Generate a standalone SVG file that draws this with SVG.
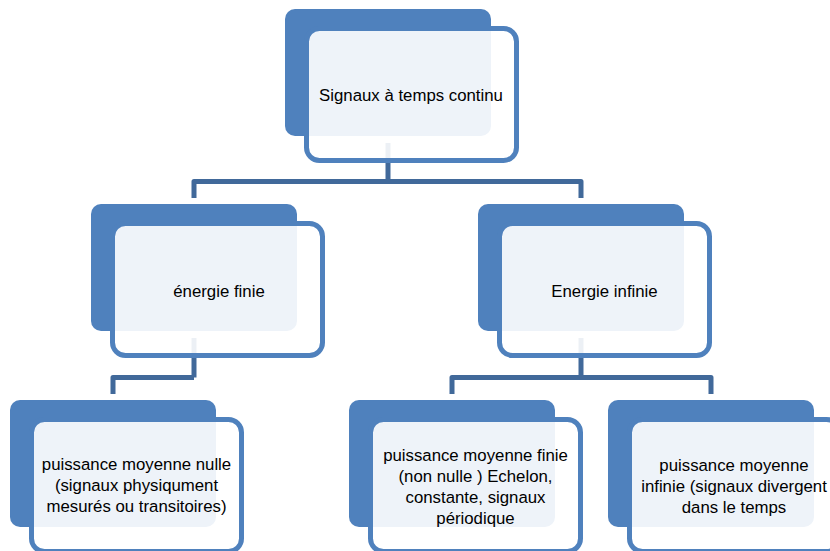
<svg xmlns="http://www.w3.org/2000/svg" width="830" height="551" viewBox="0 0 830 551">
<style>
.back{fill:#4F81BD;}
.front{fill:#FFFFFF;fill-opacity:0.9;stroke:#4F81BD;stroke-width:5;}
.conn{fill:none;stroke:#41699A;stroke-width:5;stroke-linejoin:round;}
.t{font-family:"Liberation Sans",Arial,sans-serif;font-size:16.8px;fill:#000;text-anchor:middle;}
</style>
<rect width="830" height="551" fill="#FFFFFF"/>
<g id="backs">
<rect class="back" x="285" y="9" width="206" height="127" rx="10"/>
<rect class="back" x="91" y="204" width="206" height="127" rx="10"/>
<rect class="back" x="478" y="204" width="206" height="127" rx="10"/>
<rect class="back" x="10" y="400" width="206" height="127" rx="10"/>
<rect class="back" x="349" y="400" width="206" height="127" rx="10"/>
<rect class="back" x="608" y="400" width="206" height="127" rx="10"/>
</g>
<g id="connectors">
<path class="conn" d="M388,143 V181.5"/>
<path class="conn" d="M194,198 V181.5 H581 V198"/>
<path class="conn" d="M194,338 V377.5"/>
<path class="conn" d="M113,394 V377.5 H194"/>
<path class="conn" d="M581,338 V377.5"/>
<path class="conn" d="M452,394 V377.5 H711 V394"/>
</g>
<g id="n-top">
<rect class="front" x="306.5" y="28.5" width="210" height="132" rx="13"/>
<text class="t" x="411" y="101">Signaux à temps continu</text>
</g>
<g id="n-energie-finie">
<rect class="front" x="112.5" y="223.5" width="210" height="132" rx="13"/>
<text class="t" x="219" y="297">énergie finie</text>
</g>
<g id="n-energie-infinie">
<rect class="front" x="499.5" y="223.5" width="210" height="132" rx="13"/>
<text class="t" x="604.5" y="297">Energie infinie</text>
</g>
<g id="n-nulle">
<rect class="front" x="31.5" y="419.5" width="210" height="132" rx="13"/>
<text class="t" x="136.5" y="470">puissance moyenne nulle</text>
<text class="t" x="136.5" y="491">(signaux physiqument</text>
<text class="t" x="136.5" y="512">mesurés ou transitoires)</text>
</g>
<g id="n-finie">
<rect class="front" x="370.5" y="419.5" width="210" height="132" rx="13"/>
<text class="t" x="475.5" y="461">puissance moyenne finie</text>
<text class="t" x="475.5" y="482">(non nulle ) Echelon,</text>
<text class="t" x="475.5" y="503">constante, signaux</text>
<text class="t" x="475.5" y="524">périodique</text>
</g>
<g id="n-infinie">
<rect class="front" x="629.5" y="419.5" width="210" height="132" rx="13"/>
<text class="t" x="734" y="471">puissance moyenne</text>
<text class="t" x="734" y="492">infinie (signaux divergent</text>
<text class="t" x="734" y="513">dans le temps</text>
</g>
</svg>
